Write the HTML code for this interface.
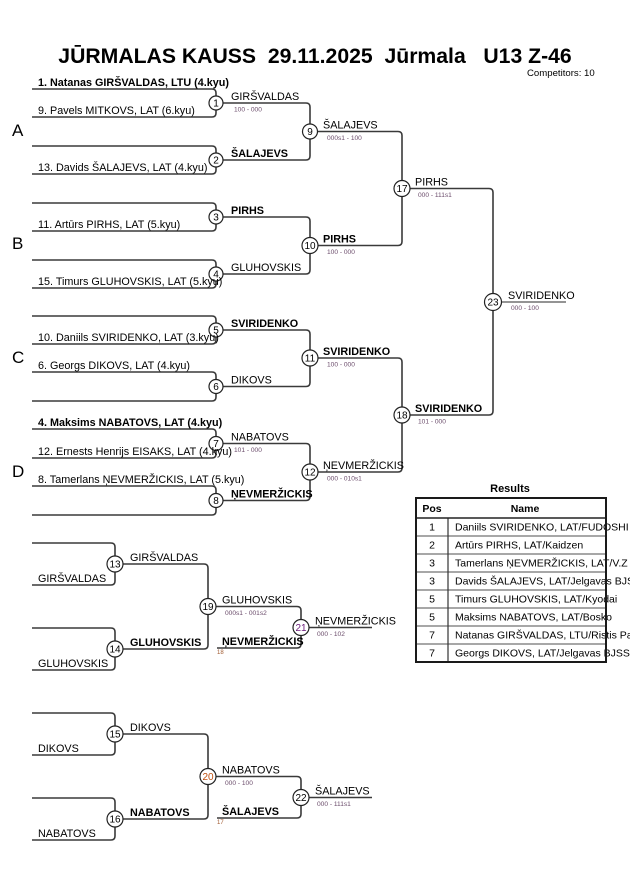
<!DOCTYPE html>
<html>
<head>
<meta charset="utf-8">
<style>
html,body{margin:0;padding:0;background:#fff;}
body{width:630px;height:891px;overflow:hidden;}
svg{display:block;}
text{font-family:"Liberation Sans",Arial,sans-serif;fill:#000;}
.n{font-size:10.8px;}
.b{font-size:10.8px;font-weight:bold;}
.s{font-size:6.6px;fill:#6b4c6b;}
.c{font-size:10px;text-anchor:middle;}
.t{font-size:10.5px;}
</style>
</head>
<body>
<svg width="630" height="891" viewBox="0 0 630 891" xmlns="http://www.w3.org/2000/svg">
<!-- Title -->
<text x="315" y="63" text-anchor="middle" style="font-size:21.2px;font-weight:bold;white-space:pre" xml:space="preserve">JŪRMALAS KAUSS  29.11.2025  Jūrmala   U13 Z-46</text>
<text x="527" y="76" style="font-size:9.6px">Competitors: 10</text>

<!-- Pool letters -->
<text x="12" y="136" style="font-size:17px">A</text>
<text x="12" y="249" style="font-size:17px">B</text>
<text x="12" y="363" style="font-size:17px">C</text>
<text x="12" y="477" style="font-size:17px">D</text>

<g fill="none" stroke="#3a3a3a" stroke-width="1.6">
<!-- Round 1 -->
<path d="M32 89 H212 Q216 89 216 93 V113 Q216 117 212 117 H32"/>
<path d="M32 146 H212 Q216 146 216 150 V170 Q216 174 212 174 H32"/>
<path d="M32 203 H212 Q216 203 216 207 V227 Q216 231 212 231 H32"/>
<path d="M32 260 H212 Q216 260 216 264 V284 Q216 288 212 288 H32"/>
<path d="M32 316 H212 Q216 316 216 320 V340 Q216 344 212 344 H32"/>
<path d="M32 372 H212 Q216 372 216 376 V397 Q216 401 212 401 H32"/>
<path d="M32 429 H212 Q216 429 216 433 V454 Q216 458 212 458 H32"/>
<path d="M32 486 H212 Q216 486 216 490 V511 Q216 515 212 515 H32"/>
<!-- Round 2 -->
<path d="M216 103 H306 Q310 103 310 107 V156 Q310 160 306 160 H216"/>
<path d="M216 217 H306 Q310 217 310 221 V270 Q310 274 306 274 H216"/>
<path d="M216 330 H306 Q310 330 310 334 V382.5 Q310 386.5 306 386.5 H216"/>
<path d="M216 443.5 H306 Q310 443.5 310 447.5 V496.5 Q310 500.5 306 500.5 H216"/>
<!-- Round 3 -->
<path d="M310 131.5 H398 Q402 131.5 402 135.5 V241.5 Q402 245.5 398 245.5 H310"/>
<path d="M310 358 H398 Q402 358 402 362 V468 Q402 472 398 472 H310"/>
<!-- Final -->
<path d="M402 188.5 H489 Q493 188.5 493 192.5 V411 Q493 415 489 415 H402"/>
<!-- Repechage 1 -->
<path d="M32 543 H111 Q115 543 115 547 V581 Q115 585 111 585 H32"/>
<path d="M32 628 H111 Q115 628 115 632 V666 Q115 670 111 670 H32"/>
<path d="M115 564 H204 Q208 564 208 568 V645 Q208 649 204 649 H115"/>
<path d="M208 606.5 H297 Q301 606.5 301 610.5 V644 Q301 648 297 648 H217"/>
<path d="M301 627.5 H372"/>
<!-- Repechage 2 -->
<path d="M32 713 H111 Q115 713 115 717 V751 Q115 755 111 755 H32"/>
<path d="M32 798 H111 Q115 798 115 802 V836 Q115 840 111 840 H32"/>
<path d="M115 734 H204 Q208 734 208 738 V815 Q208 819 204 819 H115"/>
<path d="M208 776.5 H297 Q301 776.5 301 780.5 V814 Q301 818 297 818 H217"/>
<path d="M301 797.5 H372"/>
</g>
<path d="M493 302 H566" fill="none" stroke="#707070" stroke-width="1.6"/>

<!-- Output labels -->
<text class="n" x="231" y="100">GIRŠVALDAS</text>
<text class="s" x="234" y="111.5">100 - 000</text>
<text class="b" x="231" y="157">ŠALAJEVS</text>
<text class="b" x="231" y="214">PIRHS</text>
<text class="n" x="231" y="271">GLUHOVSKIS</text>
<text class="b" x="231" y="327">SVIRIDENKO</text>
<text class="n" x="231" y="383.5">DIKOVS</text>
<text class="n" x="231" y="440.5">NABATOVS</text>
<text class="s" x="234" y="452">101 - 000</text>
<text class="b" x="231" y="497.5">ŅEVMERŽICKIS</text>

<text class="n" x="323" y="128.5">ŠALAJEVS</text>
<text class="s" x="327" y="140">000s1 - 100</text>
<text class="b" x="323" y="242.5">PIRHS</text>
<text class="s" x="327" y="254">100 - 000</text>
<text class="b" x="323" y="355">SVIRIDENKO</text>
<text class="s" x="327" y="366.5">100 - 000</text>
<text class="n" x="323" y="469">ŅEVMERŽICKIS</text>
<text class="s" x="327" y="480.5">000 - 010s1</text>

<text class="n" x="415" y="185.5">PIRHS</text>
<text class="s" x="418" y="197">000 - 111s1</text>
<text class="b" x="415" y="412">SVIRIDENKO</text>
<text class="s" x="418" y="423.5">101 - 000</text>

<text class="n" x="508" y="299">SVIRIDENKO</text>
<text class="s" x="511" y="310">000 - 100</text>

<!-- Repechage labels -->
<text class="n" x="38" y="582">GIRŠVALDAS</text>
<text class="n" x="130" y="561">GIRŠVALDAS</text>
<text class="n" x="38" y="667">GLUHOVSKIS</text>
<text class="b" x="130" y="646">GLUHOVSKIS</text>
<text class="n" x="222" y="603.5">GLUHOVSKIS</text>
<text class="s" x="225" y="615">000s1 - 001s2</text>
<text class="b" x="222" y="645">ŅEVMERŽICKIS</text>
<text class="s" x="217" y="654" style="font-size:6px;fill:#a05a30">18</text>
<text class="n" x="315" y="624.5">ŅEVMERŽICKIS</text>
<text class="s" x="317" y="636">000 - 102</text>

<text class="n" x="38" y="752">DIKOVS</text>
<text class="n" x="130" y="731">DIKOVS</text>
<text class="n" x="38" y="837">NABATOVS</text>
<text class="b" x="130" y="816">NABATOVS</text>
<text class="n" x="222" y="773.5">NABATOVS</text>
<text class="s" x="225" y="785">000 - 100</text>
<text class="b" x="222" y="815">ŠALAJEVS</text>
<text class="s" x="217" y="824" style="font-size:6px;fill:#a05a30">17</text>
<text class="n" x="315" y="794.5">ŠALAJEVS</text>
<text class="s" x="317" y="806">000 - 111s1</text>

<!-- Circles -->
<g fill="#fff" stroke="#222" stroke-width="1.2">
<circle cx="216" cy="103" r="7"/>
<circle cx="216" cy="160" r="7"/>
<circle cx="216" cy="217" r="7"/>
<circle cx="216" cy="274" r="7"/>
<circle cx="216" cy="330" r="7"/>
<circle cx="216" cy="386.5" r="7"/>
<circle cx="216" cy="443.5" r="7"/>
<circle cx="216" cy="500.5" r="7"/>
<circle cx="310" cy="131.5" r="7.5"/>
<circle cx="310" cy="245.5" r="8"/>
<circle cx="310" cy="358" r="8"/>
<circle cx="310" cy="472" r="8"/>
<circle cx="402" cy="188.5" r="8"/>
<circle cx="402" cy="415" r="8"/>
<circle cx="493" cy="302" r="8.5"/>
<circle cx="115" cy="564" r="8"/>
<circle cx="115" cy="649" r="8"/>
<circle cx="208" cy="606.5" r="8"/>
<circle cx="301" cy="627.5" r="8"/>
<circle cx="115" cy="734" r="8"/>
<circle cx="115" cy="819" r="8"/>
<circle cx="208" cy="776.5" r="8"/>
<circle cx="301" cy="797.5" r="8"/>
</g>
<g>
<text class="c" x="216" y="106.5">1</text>
<text class="c" x="216" y="163.5">2</text>
<text class="c" x="216" y="220.5">3</text>
<text class="c" x="216" y="277.5">4</text>
<text class="c" x="216" y="333.5">5</text>
<text class="c" x="216" y="390">6</text>
<text class="c" x="216" y="447">7</text>
<text class="c" x="216" y="504">8</text>
<text class="c" x="310" y="135">9</text>
<text class="c" x="310" y="249">10</text>
<text class="c" x="310" y="361.5">11</text>
<text class="c" x="310" y="475.5">12</text>
<text class="c" x="402" y="192">17</text>
<text class="c" x="402" y="418.5">18</text>
<text class="c" x="493" y="305.5">23</text>
<text class="c" x="115" y="567.5">13</text>
<text class="c" x="115" y="652.5">14</text>
<text class="c" x="208" y="610">19</text>
<text class="c" x="301" y="631" style="fill:#6a1a7a">21</text>
<text class="c" x="115" y="737.5">15</text>
<text class="c" x="115" y="822.5">16</text>
<text class="c" x="208" y="780" style="fill:#c05010">20</text>
<text class="c" x="301" y="801">22</text>
</g>

<!-- Input labels -->
<text class="b" x="38" y="86">1. Natanas GIRŠVALDAS, LTU (4.kyu)</text>
<text class="n" x="38" y="114">9. Pavels MITKOVS, LAT (6.kyu)</text>
<text class="n" x="38" y="171">13. Davids ŠALAJEVS, LAT (4.kyu)</text>
<text class="n" x="38" y="228">11. Artūrs PIRHS, LAT (5.kyu)</text>
<text class="n" x="38" y="285">15. Timurs GLUHOVSKIS, LAT (5.kyu)</text>
<text class="n" x="38" y="341">10. Daniils SVIRIDENKO, LAT (3.kyu)</text>
<text class="n" x="38" y="369">6. Georgs DIKOVS, LAT (4.kyu)</text>
<text class="b" x="38" y="426">4. Maksims NABATOVS, LAT (4.kyu)</text>
<text class="n" x="38" y="455">12. Ernests Henrijs EISAKS, LAT (4.kyu)</text>
<text class="n" x="38" y="483">8. Tamerlans ŅEVMERŽICKIS, LAT (5.kyu)</text>

<!-- Results table -->
<text x="510" y="492" text-anchor="middle" style="font-size:11px;font-weight:bold">Results</text>
<text x="432" y="512" text-anchor="middle" style="font-size:10.5px;font-weight:bold">Pos</text>
<text x="525" y="512" text-anchor="middle" style="font-size:10.5px;font-weight:bold">Name</text>
<g class="t">
<text class="t" x="432" y="530.5" text-anchor="middle">1</text>
<text class="t" x="455" y="530.5">Daniils SVIRIDENKO, LAT/FUDOSHI</text>
<text class="t" x="432" y="548.5" text-anchor="middle">2</text>
<text class="t" x="455" y="548.5">Artūrs PIRHS, LAT/Kaidzen</text>
<text class="t" x="432" y="566.5" text-anchor="middle">3</text>
<text class="t" x="455" y="566.5">Tamerlans ŅEVMERŽICKIS, LAT/V.Z</text>
<text class="t" x="432" y="584.5" text-anchor="middle">3</text>
<text class="t" x="455" y="584.5">Davids ŠALAJEVS, LAT/Jelgavas BJSS</text>
<text class="t" x="432" y="602.5" text-anchor="middle">5</text>
<text class="t" x="455" y="602.5">Timurs GLUHOVSKIS, LAT/Kyodai</text>
<text class="t" x="432" y="620.5" text-anchor="middle">5</text>
<text class="t" x="455" y="620.5">Maksims NABATOVS, LAT/Bosko</text>
<text class="t" x="432" y="638.5" text-anchor="middle">7</text>
<text class="t" x="455" y="638.5">Natanas GIRŠVALDAS, LTU/Ristis Pa</text>
<text class="t" x="432" y="656.5" text-anchor="middle">7</text>
<text class="t" x="455" y="656.5">Georgs DIKOVS, LAT/Jelgavas BJSS</text>
</g>
<g fill="none">
<g stroke="#8a8a8a" stroke-width="1.4">
<path d="M416 536 H606 M416 554 H606 M416 572 H606 M416 590 H606 M416 608 H606 M416 626 H606 M416 644 H606"/>
</g>
<path d="M448 518 V662" stroke="#333" stroke-width="1.2"/>
<path d="M416 518 H606" stroke="#222" stroke-width="1.6"/>
<rect x="416" y="498" width="190" height="164" stroke="#1a1a1a" stroke-width="2"/>
</g>
</svg>
</body>
</html>
